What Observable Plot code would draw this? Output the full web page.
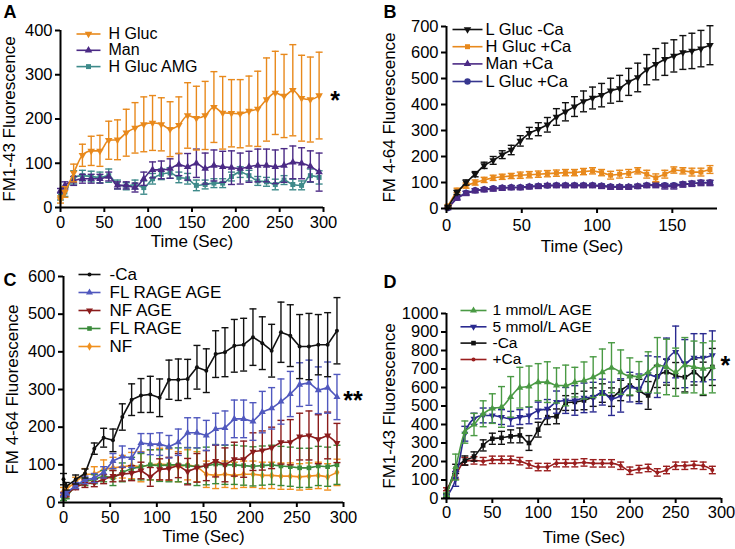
<!DOCTYPE html>
<html><head><meta charset="utf-8">
<script src="https://cdn.jsdelivr.net/npm/d3@7"></script>
<script src="https://cdn.jsdelivr.net/npm/@observablehq/plot@0.6"></script>
<style>
html,body{margin:0;padding:0;background:#fff;}
#root{position:relative;width:735px;height:549px;overflow:hidden;background:#fff;}
.panel{position:absolute;}
.panel svg{overflow:visible;}
</style></head><body><div id="root"></div>
<script>
// ---------- Panel A ----------
const tA = [0,5,15,25,35,45,55,65,75,85,95,105,115,125,135,145,155,165,175,185,195,205,215,225,235,245,255,265,275,285,295];
const aHGluc    = [18,35,78,118,128,128,152,153,169,180,188,191,188,177,186,208,202,208,227,214,213,212,218,223,244,259,252,265,247,244,253];
const aHGlucErr = [8,12,20,25,33,35,43,45,53,57,62,62,60,62,64,74,72,77,80,82,76,77,79,85,94,94,94,103,97,96,98];
const aMan      = [38,50,60,65,65,65,70,50,50,45,65,85,85,88,97,92,100,88,95,92,90,88,92,95,95,92,95,102,100,93,80];
const aManErr   = [5,8,10,10,10,10,10,8,8,10,15,18,20,22,25,30,32,35,35,35,38,35,35,37,37,38,38,37,35,35,43];
const aAMG      = [25,35,68,72,70,68,72,52,48,52,45,65,75,78,68,65,50,52,55,55,70,80,72,60,58,52,62,52,50,72,68];
const aAMGErr   = [8,10,15,12,12,12,15,10,8,10,15,12,12,12,12,12,12,10,10,10,10,12,12,10,10,12,10,12,10,15,15];
const namesA = ["H Gluc","Man","H Gluc AMG"];

// ---------- Panel B ----------
const tB = [1,7,13,19,25,31,37,43,49,55,61,67,73,79,85,91,97,103,109,115,121,127,133,139,145,151,157,163,169,175];
const bLGlucNoCa    = [6,62,100,132,166,185,207,225,260,290,305,322,352,372,392,412,425,436,453,462,487,504,534,555,574,587,600,606,615,628];
const bLGlucNoCaErr = [5,8,10,10,12,15,15,18,20,22,25,28,32,35,38,40,42,45,48,50,52,55,58,60,62,62,65,68,70,75];
const bHGluc        = [10,70,88,100,110,118,122,125,128,130,132,134,136,138,138,142,145,138,128,132,135,145,132,118,132,148,145,140,140,150];
const bHGlucErr     = [5,8,10,10,10,10,10,10,12,12,12,12,12,12,12,12,12,12,15,15,15,12,15,15,15,12,12,15,15,15];
const bMan          = [2,40,58,68,72,75,78,80,80,83,85,88,88,88,88,88,88,85,82,82,82,85,88,90,85,85,92,95,98,98];
const bManErr       = [4,8,8,8,8,8,8,8,8,8,8,8,8,8,8,8,8,8,8,8,8,8,8,10,10,10,10,10,10,10];
const bLGluc        = [2,42,60,70,74,78,80,82,82,85,87,88,90,90,90,90,90,88,85,84,84,86,90,92,90,90,94,96,100,100];
const bLGlucErr     = [4,6,6,6,6,6,6,6,6,6,6,6,6,6,6,6,6,6,6,6,6,6,6,6,6,6,6,8,8,8];
const namesB = ["L Gluc -Ca","H Gluc +Ca","Man +Ca","L Gluc +Ca"];

// ---------- Panel C ----------
const tC = [0,3,13,23,33,43,53,63,73,83,93,103,113,123,133,143,153,163,173,183,193,203,213,223,233,243,253,263,273,283,293];
const cNoCa       = [62,43,61,77,143,172,165,227,273,284,287,278,326,326,328,359,350,394,399,416,419,439,423,403,452,443,414,414,419,419,456];
const cNoCaErr    = [15,10,12,12,15,25,30,35,42,45,48,50,52,55,52,58,58,62,65,70,70,75,70,70,80,82,85,88,80,85,88];
const cFLRAGEAGE    = [20,25,45,60,65,80,110,122,118,158,155,155,148,160,185,185,178,195,198,222,222,215,240,250,268,288,313,318,298,305,280];
const cFLRAGEAGEErr = [5,5,8,10,12,15,20,28,25,25,28,30,30,35,40,40,40,42,45,50,50,50,55,55,60,60,58,60,62,68,60];
const cNFAGE      = [22,20,42,50,52,62,70,75,78,85,68,88,90,98,82,92,98,110,100,115,115,135,138,145,160,160,175,178,168,178,158];
const cNFAGEErr   = [5,5,8,10,10,12,15,18,20,22,25,28,30,32,35,38,40,42,45,45,48,50,52,55,58,60,62,65,65,62,52];
const cFLRAGE     = [10,15,45,55,62,70,65,80,90,95,100,98,100,100,98,95,97,102,100,100,98,96,98,100,97,95,92,92,97,95,100];
const cFLRAGEErr  = [5,5,8,10,12,15,20,25,30,35,40,42,45,45,48,50,50,52,52,52,52,52,52,52,52,52,52,52,52,52,52];
const cNF         = [30,35,55,75,75,88,92,95,98,95,100,102,100,95,100,95,75,72,75,72,75,75,72,72,70,70,68,70,72,68,80];
const cNFErr      = [10,10,12,15,20,25,28,30,35,40,40,42,42,40,40,40,35,35,35,35,35,35,35,35,35,35,35,35,35,35,35];
const namesC = ["-Ca","FL RAGE AGE","NF AGE","FL RAGE","NF"];

// ---------- Panel D ----------
const tD = [0,10,20,30,40,50,60,70,80,90,100,110,120,130,140,150,160,170,180,190,200,210,220,230,240,250,260,270,280,290];
const dAGE1    = [20,170,359,400,458,486,495,549,599,606,629,629,611,611,629,638,656,683,707,683,660,660,683,720,711,683,720,711,702,711];
const dAGE1Err = [10,70,60,60,70,80,110,110,110,110,100,110,95,110,80,100,110,125,135,120,100,80,110,150,150,130,150,140,140,140];
const dAGE5    = [10,106,350,431,449,449,440,431,440,449,476,485,521,530,530,544,548,575,539,557,602,593,671,656,747,792,729,761,761,774];
const dAGE5Err = [10,40,40,30,40,40,40,40,40,45,45,50,60,70,80,80,80,70,90,90,80,80,100,110,120,140,130,130,130,132];
const dNoCa    = [16,160,205,227,287,323,328,336,341,300,372,440,444,516,522,530,548,570,548,584,611,584,557,660,683,665,656,683,647,711];
const dNoCaErr = [10,25,25,25,30,30,35,35,40,40,40,40,40,40,45,50,50,50,50,55,55,60,75,60,70,70,80,70,90,100];
const dCa      = [50,125,202,206,202,209,209,209,202,184,170,170,191,191,191,195,190,190,190,177,150,159,165,141,154,177,177,181,177,154];
const dCaErr   = [8,20,20,20,20,20,20,20,20,20,20,20,20,20,20,20,20,20,20,20,20,20,20,20,20,20,20,20,20,20];
const namesD = ["1 mmol/L AGE","5 mmol/L AGE","-Ca","+Ca"];

// ---------- Axis tick labels / titles ----------
const ticks300 = [0,50,100,150,200,250,300];
const ticksB_x = [0,50,100,150];
const ticksA_y = [0,100,200,300,400];
const ticksB_y = [0,100,200,300,400,500,600,700];
const ticksC_y = [0,100,200,300,400,500,600];
const ticksD_y = [0,100,200,300,400,500,600,700,800,900,1000];
const xTitle = "Time (Sec)";
const yTitles = ["FM1-43 Fluorescence","FM 4-64 Fluorescence","FM 4-64 Fluorescence","FM1-43 Fluorescence"];
const letters = ["A","B","C","D"];
const stars = ["*","","**","*"];

// ---------- symbols ----------
const FONT = '"Liberation Sans", Arial, Helvetica, sans-serif';
const hline = {draw(ctx, size){const r = Math.sqrt(size/Math.PI); ctx.moveTo(-r,0); ctx.lineTo(r,0);}};
const triDown = {draw(ctx, size){const s3 = Math.sqrt(3); const y = -Math.sqrt(size/(s3*3)); ctx.moveTo(0,-y*2); ctx.lineTo(-s3*y, y); ctx.lineTo(s3*y, y); ctx.closePath();}};

function rows(t, v, e){ return t.map((x,i)=>({t:x, v:v[i], e:e[i]})); }

function buildPanel(cfg){
  const marks = [];
  const ser = cfg.series;
  for (let k = ser.length-1; k >= 0; k--){
    const s = ser[k];
    const data = rows(s.t, s.v, s.e);
    marks.push(Plot.ruleX(data, {x:"t", y1:d=>Math.max(0,d.v-d.e), y2:d=>d.v+d.e, stroke:s.color, strokeWidth:1.4}));
    marks.push(Plot.dot(data, {x:"t", y:d=>d.v+d.e, symbol:hline, r:3.5, stroke:s.color, fill:"none", strokeWidth:1.4}));
    marks.push(Plot.dot(data.filter(d=>d.v-d.e>0), {x:"t", y:d=>d.v-d.e, symbol:hline, r:3.5, stroke:s.color, fill:"none", strokeWidth:1.4}));
    marks.push(Plot.line(data, {x:"t", y:"v", stroke:s.color, strokeWidth:1.6, curve:cfg.curve}));
    marks.push(Plot.dot(data, {x:"t", y:"v", symbol:s.sym, r:s.r, fill:s.color, stroke:"none"}));
  }
  marks.push(Plot.ruleX([0], {strokeWidth:2, stroke:"black"}));
  marks.push(Plot.ruleY([0], {strokeWidth:2, stroke:"black"}));
  marks.push(Plot.axisX({ticks:cfg.xTicks, tickSize:5, tickPadding:cfg.xPad, strokeWidth:2, label:null, fontSize:cfg.tickFont, tickFormat:d=>String(d)}));
  marks.push(Plot.axisY({ticks:cfg.yTicks, tickSize:5, tickPadding:cfg.yPad, strokeWidth:2, label:null, fontSize:cfg.tickFont, tickFormat:d=>String(d)}));
  marks.push(Plot.text([xTitle], {frameAnchor:"bottom", dy:cfg.xTitleDy, text:d=>d, fontSize:17, textAnchor:"middle", lineAnchor:"middle"}));
  marks.push(Plot.text([cfg.yTitle], {frameAnchor:"left", dx:cfg.yTitleDx, text:d=>d, fontSize:17, rotate:-90, textAnchor:"middle", lineAnchor:"middle"}));
  const L = cfg.legend;
  ser.forEach((s,i)=>{
    marks.push(Plot.dot([0], {frameAnchor:"top-left", dx:L.lx, dy:L.dy[i], symbol:hline, r:L.half, stroke:s.color, fill:"none", strokeWidth:1.6}));
    marks.push(Plot.dot([0], {frameAnchor:"top-left", dx:L.lx, dy:L.dy[i], symbol:s.sym, r:s.r, fill:s.color, stroke:"none"}));
    marks.push(Plot.text([s.name], {frameAnchor:"top-left", dx:L.tx, dy:L.dy[i], text:d=>d, textAnchor:"start", lineAnchor:"middle", fontSize:L.font}));
  });
  marks.push(Plot.text([cfg.letter], {frameAnchor:"top-left", dx:cfg.letterDx, dy:cfg.letterDy, text:d=>d, textAnchor:"start", lineAnchor:"top", fontSize:18, fontWeight:"bold"}));
  if (cfg.star) {
    const s = ser[cfg.starSeries];
    const last = {t:s.t[s.t.length-1], v:s.v[s.v.length-1]};
    marks.push(Plot.text([last], {x:"t", y:"v", text:()=>cfg.star, dx:cfg.starDx, dy:cfg.starDy, fontSize:25, fontWeight:"bold", textAnchor:"middle", lineAnchor:"middle"}));
  }
  const svg = Plot.plot({
    width:cfg.width, height:cfg.height,
    marginTop:cfg.m[0], marginRight:cfg.m[1], marginBottom:cfg.m[2], marginLeft:cfg.m[3],
    x:{domain:cfg.xDomain}, y:{domain:cfg.yDomain},
    style:{fontFamily:FONT, fontSize:"16px", color:"black", background:"transparent", overflow:"visible"},
    marks
  });
  const div = document.createElement("div");
  div.className = "panel";
  div.style.left = cfg.left + "px";
  div.style.top = cfg.top + "px";
  div.appendChild(svg);
  document.getElementById("root").appendChild(div);
}

const panels = [
  { left:0, top:0, width:367, height:268, m:[30,44,61,60], xDomain:[0,300], yDomain:[0,400],
    xTicks:ticks300, yTicks:ticksA_y, xPad:4, yPad:3, tickFont:16.5, curve:"monotone-x",
    yTitle:yTitles[0], xTitleDy:34, yTitleDx:-51, letter:letters[0], letterDx:-57, letterDy:-25,
    star:stars[0], starSeries:0, starDx:16, starDy:5,
    legend:{lx:28, half:12, tx:48, font:16, dy:[3.5,19.8,36.1]},
    series:[
      {name:namesA[0], t:tA, v:aHGluc, e:aHGlucErr, color:"#E8891C", sym:triDown, r:2.8},
      {name:namesA[1], t:tA, v:aMan, e:aManErr, color:"#4B2A85", sym:"triangle", r:2.8},
      {name:namesA[2], t:tA, v:aAMG, e:aAMGErr, color:"#3E8A8A", sym:"square", r:2.8}
    ]},
  { left:367, top:0, width:368, height:268, m:[26,18,60,79], xDomain:[0,180], yDomain:[0,700],
    xTicks:ticksB_x, yTicks:ticksB_y, xPad:6, yPad:3, tickFont:16.5, curve:"linear",
    yTitle:yTitles[1], xTitleDy:38, yTitleDx:-57, letter:letters[1], letterDx:-63, letterDy:-21,
    star:null,
    legend:{lx:21, half:15, tx:39, font:16.5, dy:[3,20.2,37.4,55]},
    series:[
      {name:namesB[0], t:tB, v:bLGlucNoCa, e:bLGlucNoCaErr, color:"#111111", sym:triDown, r:2.8},
      {name:namesB[1], t:tB, v:bHGluc, e:bHGlucErr, color:"#E8891C", sym:"square", r:2.8},
      {name:namesB[2], t:tB, v:bMan, e:bManErr, color:"#4B2A85", sym:"triangle", r:2.8},
      {name:namesB[3], t:tB, v:bLGluc, e:bLGlucErr, color:"#36368F", sym:"circle", r:3.2}
    ]},
  { left:0, top:268, width:367, height:281, m:[8,24,47,63], xDomain:[0,300], yDomain:[0,600],
    xTicks:ticks300, yTicks:ticksC_y, xPad:4, yPad:3, tickFont:16.5, curve:"linear",
    yTitle:yTitles[2], xTitleDy:34, yTitleDx:-51, letter:letters[2], letterDx:-60, letterDy:-3,
    star:stars[2], starSeries:1, starDx:16, starDy:4,
    legend:{lx:26, half:11, tx:46, font:17, dy:[-2,16,34,52,70]},
    series:[
      {name:namesC[0], t:tC, v:cNoCa, e:cNoCaErr, color:"#111111", sym:"circle", r:2},
      {name:namesC[1], t:tC, v:cFLRAGEAGE, e:cFLRAGEAGEErr, color:"#5058BE", sym:"triangle", r:2.6},
      {name:namesC[2], t:tC, v:cNFAGE, e:cNFAGEErr, color:"#8B1C1C", sym:triDown, r:2.6},
      {name:namesC[3], t:tC, v:cFLRAGE, e:cFLRAGEErr, color:"#3A8A3A", sym:"square", r:2.6},
      {name:namesC[4], t:tC, v:cNF, e:cNFErr, color:"#F0901E", sym:"diamond", r:2.6}
    ]},
  { left:367, top:268, width:368, height:281, m:[45,14,51,79], xDomain:[0,300], yDomain:[0,1000],
    xTicks:ticks300, yTicks:ticksD_y, xPad:3, yPad:3, tickFont:16.5, curve:"monotone-x",
    yTitle:yTitles[3], xTitleDy:39, yTitleDx:-57, letter:letters[3], letterDx:-63, letterDy:-38,
    star:stars[3], starSeries:1, starDx:13, starDy:11,
    legend:{lx:27, half:13, tx:46, font:15.5, dy:[-3,13.3,29.6,46]},
    series:[
      {name:namesD[0], t:tD, v:dAGE1, e:dAGE1Err, color:"#4A9A44", sym:"triangle", r:2.6},
      {name:namesD[1], t:tD, v:dAGE5, e:dAGE5Err, color:"#2A2A90", sym:triDown, r:2.6},
      {name:namesD[2], t:tD, v:dNoCa, e:dNoCaErr, color:"#111111", sym:"square", r:2.6},
      {name:namesD[3], t:tD, v:dCa, e:dCaErr, color:"#9A1E1E", sym:"circle", r:2}
    ]}
];
panels.forEach(buildPanel);
</script></body></html>
